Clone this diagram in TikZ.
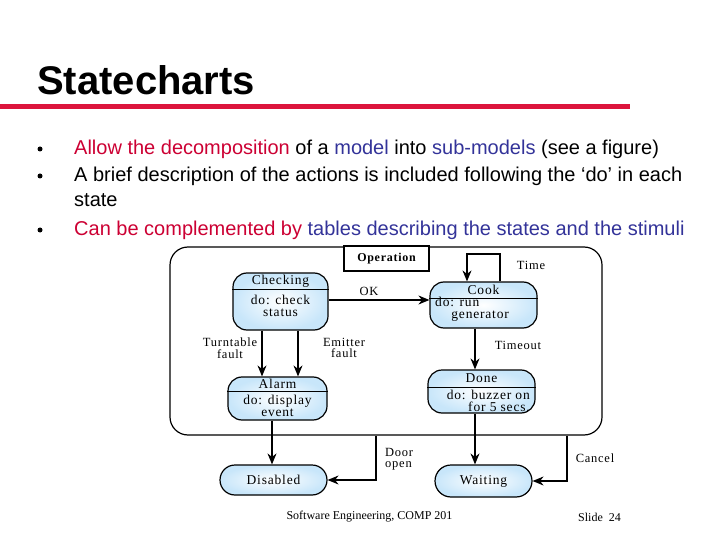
\documentclass[tikz,border=0pt]{standalone}
\usepackage{fontspec}
\setmainfont{Liberation Sans}
\newfontfamily\figfont[LetterSpace=6]{Liberation Serif}
\newfontfamily\footfont{Liberation Serif}
\usetikzlibrary{arrows.meta,calc}

\definecolor{slidered}{RGB}{220,20,60}
\definecolor{textred}{RGB}{204,0,51}
\definecolor{textblue}{RGB}{51,51,153}
\definecolor{stateblue}{RGB}{200,230,250}

\begin{document}
\begin{tikzpicture}[x=1pt,y=-1pt,
  stt/.style={draw, line width=1.2pt, rounded corners=14pt, inner color=white, outer color=stateblue, inner sep=0pt},
  stxt/.style={font=\figfont\fontsize{13.5}{12}\selectfont, align=center, inner sep=0pt},
  lbl/.style={font=\figfont\fontsize{12.5}{11.5}\selectfont, align=center, inner sep=0pt},
  arr/.style={line width=1.2pt, -{Stealth[length=11pt,width=9pt]}},
  bullet/.style={font=\fontsize{20}{24}\selectfont, anchor=base west, inner sep=0pt}]

\useasboundingbox (0,0) rectangle (720,540);

% === Title and bullet list ===
\node[anchor=base west, inner sep=0pt, font=\bfseries\fontsize{40}{48}\selectfont] (title) at (37,95) {Statecharts};
\draw[slidered, line width=5pt] (0,107) -- (630,107);

\fill (40,149) circle (2.5pt);
\fill (40,176) circle (2.5pt);
\fill (40,230) circle (2.5pt);

\node[bullet] (item1) at (74,155) {\textcolor{textred}{Allow the decomposition} of a \textcolor{textblue}{model} into \textcolor{textblue}{sub-models} (see a figure)};
\node[bullet] (item2) at (74,182) {A brief description of the actions is included following the ‘do’ in each};
\node[bullet] (item2b) at (74,207) {state};
\node[bullet] (item3) at (74,236) {\textcolor{textred}{Can be complemented by} \textcolor{textblue}{tables describing the states and the stimuli}};

% === Statechart: Operation superstate ===
\node[draw, line width=1.2pt, rounded corners=18pt, minimum width=432pt, minimum height=188pt, inner sep=0pt] (operation) at (386,341) {};
\node[draw, line width=1.2pt, fill=white, minimum width=85pt, minimum height=25pt, inner sep=0pt,
  font=\figfont\bfseries\fontsize{12}{12}\selectfont] (oplabel) at (386.5,258.5) {Operation};

% Checking
\node[stt, minimum width=95pt, minimum height=57pt] (checking) at (280.5,301.5) {};
\draw[line width=1pt] (checking.west |- 0,289) -- (checking.east |- 0,289);
\node[stxt] at (280.5,281) {Checking};
\node[stxt] at (280.5,305.5) {do: check\\status};

% Cook
\node[stt, minimum width=107pt, minimum height=46pt] (cook) at (483.5,305) {};
\draw[line width=1pt] (cook.west |- 0,298) -- (cook.east |- 0,298);
\node[stxt] at (483.5,290) {Cook};
\node[stxt, anchor=west, align=left] at (435,309) {do: run\\\hspace*{1.2em}generator};

% Alarm
\node[stt, minimum width=99pt, minimum height=43pt] (alarm) at (277.5,398.5) {};
\draw[line width=1pt] (alarm.west |- 0,391) -- (alarm.east |- 0,391);
\node[stxt] at (277.5,384) {Alarm};
\node[stxt] at (277.5,406) {do: display\\event};

% Done
\node[stt, minimum width=107pt, minimum height=43pt] (done) at (481.5,391.5) {};
\draw[line width=1pt] (done.west |- 0,387) -- (done.east |- 0,387);
\node[stxt] at (481.5,378.5) {Done};
\node[stxt, anchor=east, align=right] at (530,401) {do: buzzer on\\for 5 secs.};

% Disabled and Waiting (outside the superstate)
\node[stt, rounded corners=15pt, minimum width=107pt, minimum height=30pt, stxt] (disabled) at (273.5,480) {Disabled};
\node[stt, rounded corners=16pt, minimum width=97pt, minimum height=32pt, stxt] (waiting) at (483.5,481) {Waiting};

% --- Transitions ---
\draw[arr] (checking.east |- 0,300) -- (cook.west |- 0,300);
\node[lbl] at (369,291) {OK};

\draw[arr] (cook.north -| 500,0) -- (500,254) -- (467,254) -- (cook.north -| 467,0);
\node[lbl] at (531,265) {Time};

\draw[arr] (checking.south -| 262,0) -- (alarm.north -| 262,0);
\draw[arr] (checking.south -| 298,0) -- (alarm.north -| 298,0);
\node[lbl] at (230,348) {Turntable\\fault};
\node[lbl] at (344,348) {Emitter\\fault};

\draw[arr] (cook.south -| 475,0) -- (done.north -| 475,0);
\node[lbl] at (518,345) {Timeout};

\draw[arr] (alarm.south -| 272,0) -- (disabled.north -| 272,0);
\draw[arr] (done.south -| 475,0) -- (waiting.north -| 475,0);

\draw[arr] (operation.south -| 376,0) |- (disabled.east);
\node[lbl, anchor=west, align=left] at (385,459) {Door\\open};

\draw[arr] (operation.south -| 567,0) |- (waiting.east);
\node[lbl] at (595,458) {Cancel};

% === Footer ===
\node[font=\footfont\fontsize{12}{14}\selectfont] (footer) at (369.5,517) {Software Engineering, COMP 201};
\node[font=\footfont\fontsize{12}{14}\selectfont] (slideno) at (599.5,517) {Slide\ \ 24};

\end{tikzpicture}
\end{document}
